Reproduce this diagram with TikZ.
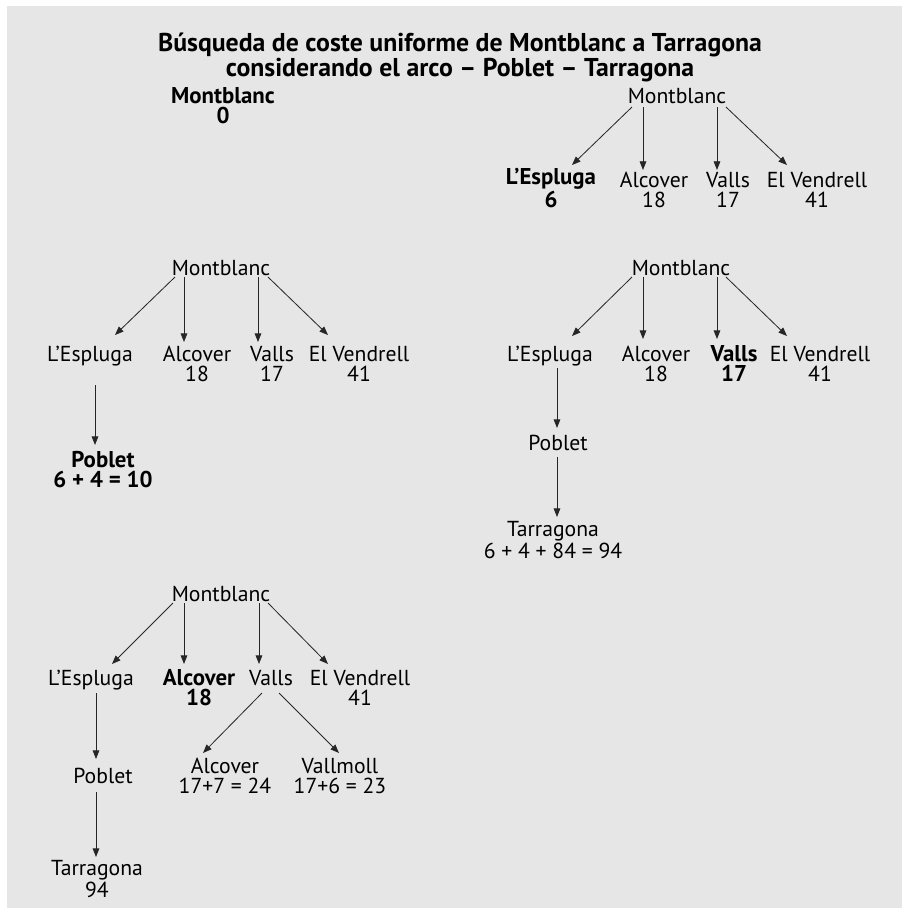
\documentclass[tikz,border=0pt]{standalone}
\usepackage{fontspec}
\setmainfont{PT Sans}
\usetikzlibrary{arrows.meta,calc}

\definecolor{bggray}{RGB}{230,230,230}
\tikzset{
  city/.style={align=center,inner sep=0pt,anchor=base,font=\fontsize{18.5}{17}\selectfont},
  best/.style={city,font=\fontsize{19.5}{17}\selectfont\bfseries},
  heading/.style={align=center,inner sep=0pt,anchor=base,font=\fontsize{22}{15.6}\selectfont\bfseries},
  link/.style={draw=black!85,line width=0.7pt,-{Triangle[length=2.6mm,width=2mm]}}
}

\begin{document}
\begin{tikzpicture}[x=0.03cm,y=-0.03cm]
\useasboundingbox (0,0) rectangle (902,910);
\fill[bggray] (7,6) rectangle (902,908);

% title (base = last line)
\node[heading] (ttl) at (460,76) {Búsqueda de coste uniforme de Montblanc a Tarragona\\considerando el arco – Poblet – Tarragona};

% step 1
\node[best] (m1) at (223,123) {Montblanc\\0};

% step 2
\node[city] (m2) at (677,103) {Montblanc};
\node[best] (e2) at (551,207) {L’Espluga\\6};
\node[city] (a2) at (654,207) {Alcover\\18};
\node[city] (v2) at (728,207) {Valls\\17};
\node[city] (ev2) at (817,207) {El Vendrell\\41};
\draw[link] ($(m2.base)+(-45,4)$) -- ($(e2.base)+(21,-42)$);
\draw[link] ($(m2.base -| a2.base)+(-11,4)$) -- ($(a2.base)+(-11,-37)$);
\draw[link] ($(m2.base -| v2.base)+(-11,4)$) -- ($(v2.base)+(-11,-37)$);
\draw[link] ($(m2.base)+(49,4)$) -- ($(ev2.base)+(-30,-42)$);

% step 3
\node[city] (m3) at (221,275) {Montblanc};
\node[city] (e3) at (90,361) {L’Espluga};
\node[city] (a3) at (197,381) {Alcover\\18};
\node[city] (v3) at (272,381) {Valls\\17};
\node[city] (ev3) at (359,381) {El Vendrell\\41};
\node[best] (p3) at (103,487) {Poblet\\6 + 4 = 10};
\draw[link] ($(m3.base)+(-46,2)$) -- ($(e3.base)+(25,-26)$);
\draw[link] ($(m3.base -| a3.base)+(-13,2)$) -- ($(a3.base)+(-13,-39)$);
\draw[link] ($(m3.base -| v3.base)+(-14,2)$) -- ($(v3.base)+(-14,-39)$);
\draw[link] ($(m3.base)+(47,2)$) -- ($(ev3.base)+(-31,-46)$);
\draw[link] ($(e3.base)+(5,24)$) -- ($(e3.base |- p3.base)+(5,-42)$);

% step 4
\node[city] (m4) at (681,275) {Montblanc};
\node[city] (e4) at (550,361) {L’Espluga};
\node[city] (a4) at (656,381) {Alcover\\18};
\node[best] (v4) at (734,381) {Valls\\17};
\node[city] (ev4) at (820,381) {El Vendrell\\41};
\node[city] (p4) at (558,450) {Poblet};
\node[city] (t4) at (553,558) {Tarragona\\6 + 4 + 84 = 94};
\draw[link] ($(m4.base)+(-49,2)$) -- ($(e4.base)+(22,-25)$);
\draw[link] ($(m4.base -| a4.base)+(-13,2)$) -- ($(a4.base)+(-13,-42)$);
\draw[link] ($(m4.base -| v4.base)+(-17,2)$) -- ($(v4.base)+(-17,-42)$);
\draw[link] ($(m4.base)+(45,2)$) -- ($(ev4.base)+(-33,-45)$);
\draw[link] ($(e4.base)+(7,7)$) -- ($(e4.base |- p4.base)+(7,-22)$);
\draw[link] ($(e4.base |- p4.base)+(7,7)$) -- ($(e4.base |- t4.base)+(7,-41)$);

% step 5
\node[city] (m5) at (221,601) {Montblanc};
\node[city] (e5) at (91,685) {L’Espluga};
\node[best] (a5) at (199,705) {Alcover\\18};
\node[city] (v5) at (271,685) {Valls};
\node[city] (ev5) at (360,705) {El Vendrell\\41};
\node[city] (sa5) at (225,793) {Alcover\\17+7 = 24};
\node[city] (vm5) at (340,793) {Vallmoll\\17+6 = 23};
\node[city] (p5) at (103,783) {Poblet};
\node[city] (t5) at (97,897) {Tarragona\\94};
\draw[link] ($(m5.base)+(-48,2)$) -- ($(e5.base)+(21,-21)$);
\draw[link] ($(m5.base -| a5.base)+(-15,2)$) -- ($(a5.base)+(-15,-41)$);
\draw[link] ($(m5.base -| v5.base)+(-12,2)$) -- ($(v5.base)+(-12,-21)$);
\draw[link] ($(m5.base)+(47,2)$) -- ($(ev5.base)+(-32,-41)$);
\draw[link] ($(v5.base)+(-9,8)$) -- ($(sa5.base)+(-22,-40)$);
\draw[link] ($(v5.base)+(8,8)$) -- ($(vm5.base)+(-1,-40)$);
\draw[link] ($(e5.base)+(5,8)$) -- ($(e5.base |- p5.base)+(5,-24)$);
\draw[link] ($(e5.base |- p5.base)+(5,9)$) -- ($(e5.base |- t5.base)+(5,-40)$);
\end{tikzpicture}
\end{document}
